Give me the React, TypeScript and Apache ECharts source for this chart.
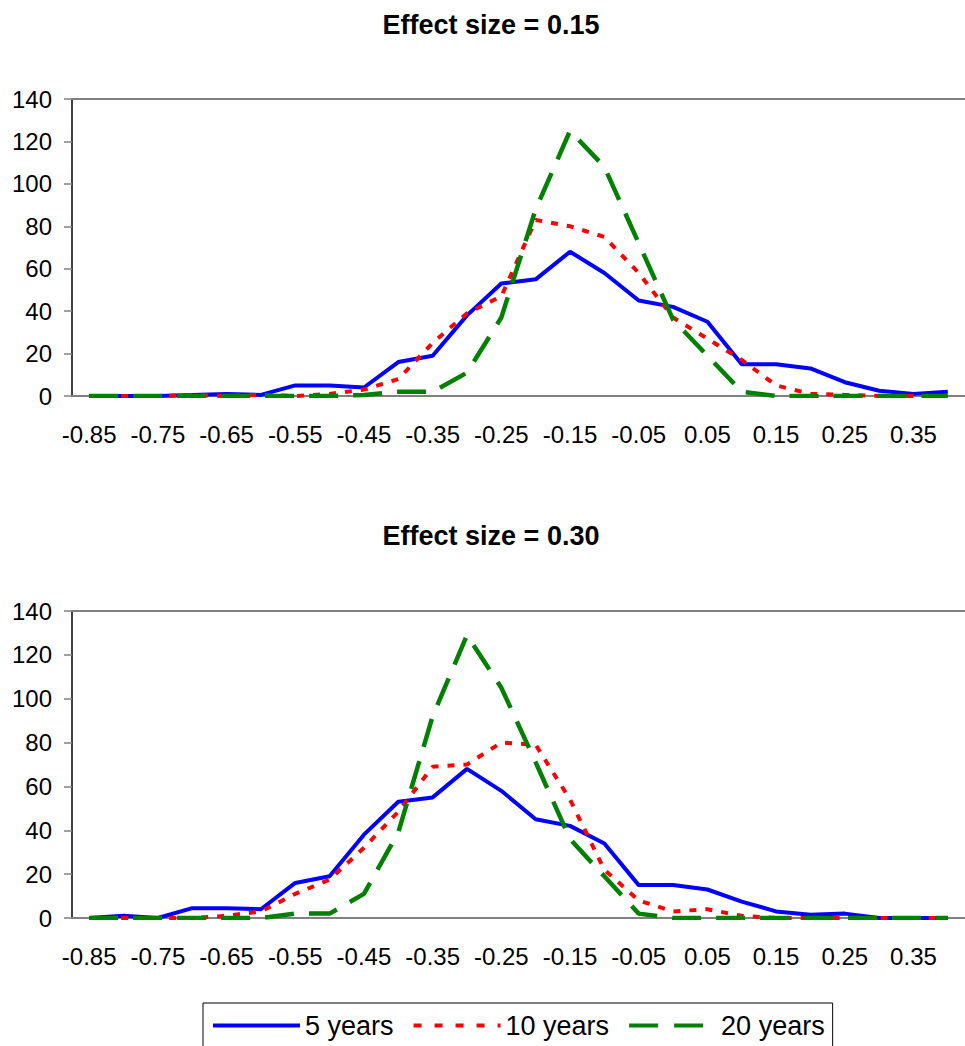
import React, { useEffect, useRef } from "react";
import * as echarts from "echarts";

const categories = [
  "-0.85", "-0.80", "-0.75", "-0.70", "-0.65", "-0.60", "-0.55", "-0.50", "-0.45",
  "-0.40", "-0.35", "-0.30", "-0.25", "-0.20", "-0.15", "-0.10", "-0.05", "0.00",
  "0.05", "0.10", "0.15", "0.20", "0.25", "0.30", "0.35", "0.40",
];

const seriesNames = ["5 years", "10 years", "20 years"];

// Effect size = 0.15
const top5 = [0, 0, 0, 0.5, 1, 0.5, 5, 5, 4, 16, 19, 38, 53, 55, 68, 58, 45, 42, 35, 15, 15, 13, 6.5, 2.5, 1, 2];
const top10 = [0, 0, 0, 0.5, 0, 0.5, 0, 1, 3, 8, 25, 39, 47, 83, 80, 75, 58, 37, 27, 17, 5, 1, 0.5, 0, 0, 0];
const top20 = [0, 0, 0, 0, 0, 0, 0, 0, 0.5, 2, 2, 11, 37, 88, 125, 108, 72, 36, 19, 2, 0, 0, 0, 0, 0, 0];

// Effect size = 0.30
const bot5 = [0, 1, 0, 4.5, 4.5, 4, 16, 19, 38, 53, 55, 68, 58, 45, 42, 34, 15, 15, 13, 7.5, 3, 1.5, 2, 0, 0, 0];
const bot10 = [0, 0, 0, 0, 1, 3, 11, 17.5, 32, 48.5, 69, 70, 80, 79, 54, 22, 8, 3, 4, 1, 0, 0, 0, 0, 0, 0];
const bot20 = [0, 0, 0, 0, 0, 0, 2, 2, 11, 39, 92, 129, 105, 71, 36, 19, 2, 0, 0, 0, 0, 0, 0, 0, 0, 0];

const titles = ["Effect size = 0.15", "Effect size = 0.30"];

const FONT = '"Liberation Sans", Arial, Helvetica, sans-serif';

export default function App() {
  const ref = useRef<HTMLDivElement>(null);

  useEffect(() => {
    if (!ref.current) return;
    const chart = echarts.init(ref.current, null, { renderer: "svg" });

    const gridTops = [99, 611];
    const gridHeights = [297, 307];
    const grids = gridTops.map((t, i) => ({
      left: 72,
      top: t,
      width: 897,
      height: gridHeights[i],
      containLabel: false,
    }));

    const xAxes: any[] = [];
    const yAxes: any[] = [];
    [0, 1].forEach((g) => {
      xAxes.push({
        type: "category",
        gridIndex: g,
        data: categories,
        boundaryGap: true,
        position: "bottom",
        axisLine: { show: true, lineStyle: { color: "#808080", width: 2 } },
        axisTick: { show: false },
        axisLabel: {
          interval: 1,
          margin: 26,
          fontSize: 24,
          fontFamily: FONT,
          color: "#000",
        },
        splitLine: { show: false },
      });
      xAxes.push({
        type: "category",
        gridIndex: g,
        data: categories,
        position: "top",
        axisLine: { show: true, lineStyle: { color: "#808080", width: 2 } },
        axisTick: { show: false },
        axisLabel: { show: false },
        splitLine: { show: false },
      });
      yAxes.push({
        type: "value",
        gridIndex: g,
        min: 0,
        max: 140,
        interval: 20,
        axisLine: { show: true, lineStyle: { color: "#000", width: 1.5 } },
        axisTick: { show: true, length: 8, lineStyle: { color: "#808080", width: 1.5 } },
        axisLabel: {
          margin: 20,
          fontSize: 24,
          fontFamily: FONT,
          color: "#000",
        },
        splitLine: { show: false },
      });
    });

    const styles = [
      { color: "#0000FF", width: 4, type: "solid" as any, legendType: "solid" as any },
      { color: "#FF0000", width: 4, type: [7, 9] as any, legendType: [8, 13] as any },
      { color: "#008000", width: 4.5, type: [29, 15] as any, legendType: [29, 16] as any },
    ];

    const panels = [
      [top5, top10, top20],
      [bot5, bot10, bot20],
    ];

    const series: any[] = [];
    panels.forEach((sets, g) => {
      sets.forEach((d, k) => {
        series.push({
          name: seriesNames[k],
          type: "line",
          xAxisIndex: g * 2,
          yAxisIndex: g,
          data: d,
          symbol: "none",
          showSymbol: false,
          smooth: false,
          color: styles[k].color,
          lineStyle: {
            color: styles[k].color,
            width: styles[k].width,
            type: styles[k].type,
            cap: "butt",
          },
          emphasis: { disabled: true },
        });
      });
    });

    chart.setOption({
      animation: false,
      backgroundColor: "#fff",
      grid: grids,
      xAxis: xAxes,
      yAxis: yAxes,
      series,
      legend: {
        data: seriesNames.map((n, k) => ({
          name: n,
          itemStyle: { opacity: 0 },
          lineStyle: {
            color: styles[k].color,
            width: 4,
            type: styles[k].legendType,
            cap: "butt",
          },
        })),
        left: 203,
        top: 1003,
        orient: "horizontal",
        itemWidth: 87,
        itemHeight: 14,
        itemGap: 18,
        padding: [9, 8, 24, 8],
        borderColor: "#000",
        borderWidth: 1,
        selectedMode: false,
        textStyle: { fontSize: 27, fontFamily: FONT, color: "#000" },
      },
      graphic: titles.map((t, i) => ({
        type: "text",
        x: 491,
        y: i === 0 ? 25 : 536,
        style: {
          text: t,
          textAlign: "center",
          textVerticalAlign: "middle",
          fontSize: 27,
          fontWeight: "bold",
          fontFamily: FONT,
          fill: "#000",
        },
      })),
    });

    return () => chart.dispose();
  }, []);

  return (
    <div
      ref={ref}
      style={{ position: "absolute", left: 0, top: 0, width: 965, height: 1046 }}
    />
  );
}
